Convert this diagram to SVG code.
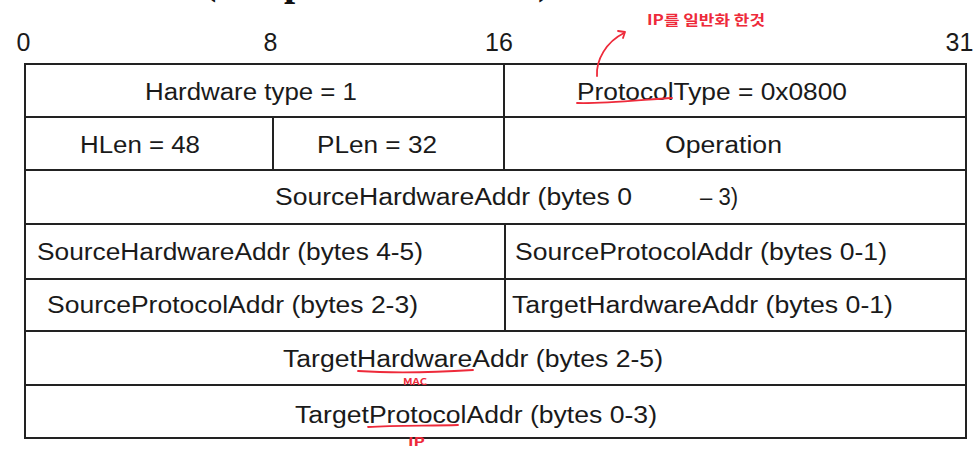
<svg xmlns="http://www.w3.org/2000/svg" width="980" height="456" viewBox="0 0 980 456">
<style>
.cell{fill:#ffffff;stroke:#222222;stroke-width:2}
.t{font-family:"Liberation Sans",Arial,sans-serif;font-size:23px;fill:#1a1a1a}
.n{font-family:"Liberation Sans",Arial,sans-serif;font-size:25px;fill:#1a1a1a;text-anchor:middle}
.ttl{font-family:"Liberation Serif","Times New Roman",serif;font-size:40px;font-weight:bold;fill:#111}
.red{fill:none;stroke:#ee2a3a;stroke-width:1.8;stroke-linecap:round;stroke-linejoin:round}
.rt{fill:#ee2a3a;font-family:"Noto Sans CJK KR","Noto Sans",sans-serif}
</style>
<rect width="980" height="456" fill="#ffffff"/>
<g id="title-fragment">
<text class="ttl" x="203" y="-6">(</text>
<text class="ttl" x="284" y="-5">p</text>
<text class="ttl" x="538" y="-6">)</text>
</g>
<g id="bit-scale">
<text class="n" x="23.5" y="51">0</text>
<text class="n" x="270.5" y="51">8</text>
<text class="n" x="499" y="51">16</text>
<text class="n" x="959.5" y="51">31</text>
</g>
<g id="hwtype"><rect class="cell" x="25" y="64" width="479" height="53"/><text class="t" x="145" y="100" textLength="212" lengthAdjust="spacingAndGlyphs">Hardware type = 1</text></g>
<g id="ptype"><rect class="cell" x="504" y="64" width="462" height="53"/><text class="t" x="577" y="100" textLength="270" lengthAdjust="spacingAndGlyphs">ProtocolType = 0x0800</text></g>
<g id="hlen"><rect class="cell" x="25" y="117" width="248" height="53"/><text class="t" x="80" y="153" textLength="120" lengthAdjust="spacingAndGlyphs">HLen = 48</text></g>
<g id="plen"><rect class="cell" x="273" y="117" width="231" height="53"/><text class="t" x="317" y="153" textLength="120" lengthAdjust="spacingAndGlyphs">PLen = 32</text></g>
<g id="operation"><rect class="cell" x="504" y="117" width="462" height="53"/><text class="t" x="665" y="153" textLength="117" lengthAdjust="spacingAndGlyphs">Operation</text></g>
<g id="sha03"><rect class="cell" x="25" y="170" width="941" height="54"/><text class="t" x="275" y="205" textLength="357" lengthAdjust="spacingAndGlyphs">SourceHardwareAddr (bytes 0</text><text class="t" x="700" y="205" textLength="38" lengthAdjust="spacingAndGlyphs">– 3)</text></g>
<g id="sha45"><rect class="cell" x="25" y="224" width="480" height="55"/><text class="t" x="37" y="260" textLength="386" lengthAdjust="spacingAndGlyphs">SourceHardwareAddr (bytes 4-5)</text></g>
<g id="spa01"><rect class="cell" x="505" y="224" width="461" height="55"/><text class="t" x="515" y="260" textLength="372" lengthAdjust="spacingAndGlyphs">SourceProtocolAddr (bytes 0-1)</text></g>
<g id="spa23"><rect class="cell" x="25" y="279" width="480" height="52"/><text class="t" x="47" y="313" textLength="371" lengthAdjust="spacingAndGlyphs">SourceProtocolAddr (bytes 2-3)</text></g>
<g id="tha01"><rect class="cell" x="505" y="279" width="461" height="52"/><text class="t" x="512" y="313" textLength="381" lengthAdjust="spacingAndGlyphs">TargetHardwareAddr (bytes 0-1)</text></g>
<g id="tha25"><rect class="cell" x="25" y="331" width="941" height="54"/><text class="t" x="283" y="367" textLength="380" lengthAdjust="spacingAndGlyphs">TargetHardwareAddr (bytes 2-5)</text></g>
<g id="tpa03"><rect class="cell" x="25" y="385" width="941" height="53"/><text class="t" x="295" y="423" textLength="362" lengthAdjust="spacingAndGlyphs">TargetProtocolAddr (bytes 0-3)</text></g>
<g id="connectors">
<path class="red" d="M597 76 C596 60 606 42 624 33"/>
<path class="red" d="M618 31 L625 32 L623 38"/>
</g>
<g id="annotations">
<text class="rt" x="647" y="25" font-size="14" font-weight="bold" textLength="118" lengthAdjust="spacingAndGlyphs">IP를 일반화 한것</text>
<path class="red" d="M577 103 C600 104 640 100 672 98"/>
<path class="red" d="M358 371 C390 373 440 372 473 370"/>
<text class="rt" x="403" y="385" font-size="9" font-weight="bold" textLength="24" lengthAdjust="spacingAndGlyphs">MAC</text>
<path class="red" d="M368 427 C395 425 430 426 458 425" stroke-width="2.6"/>
<text class="rt" x="408" y="446" font-size="12" font-weight="bold" textLength="17" lengthAdjust="spacingAndGlyphs">IP</text>
</g>
</svg>
